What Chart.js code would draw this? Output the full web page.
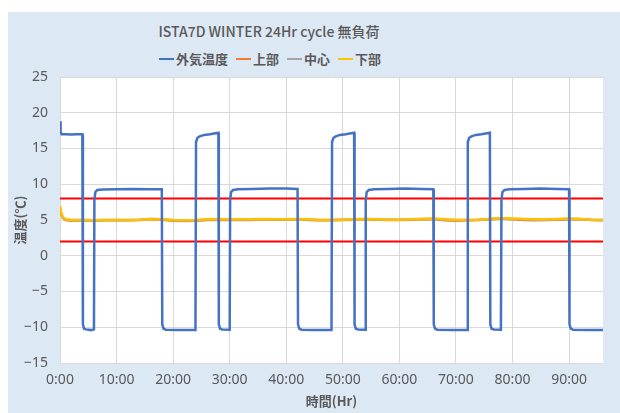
<!DOCTYPE html>
<html>
<head>
<meta charset="utf-8">
<script src="https://cdn.jsdelivr.net/npm/chart.js@4.4.1/dist/chart.umd.min.js"></script>
<style>
  html, body { margin: 0; padding: 0; background: #fff; }
  #wrap { position: relative; width: 620px; height: 413px; overflow: hidden; }
  #panel { position: absolute; left: 8px; top: 12px; width: 612px; height: 401px; background: #dde8f5; }
  #title { position: absolute; left: 0; width: 538px; top: 21px; text-align: center;
           font: 500 14px "Noto Sans CJK JP", sans-serif; color: #595959; white-space: nowrap; }
  #legend { position: absolute; left: 0; width: 540px; top: 49px; text-align: center;
            font: bold 13px "Noto Sans CJK JP", sans-serif; color: #595959; white-space: nowrap; }
  #legend span.item { display: inline-block; margin: 0 4px; }
  #legend span.sw { display: inline-block; width: 15px; height: 2px; vertical-align: middle; margin-right: 2px; position: relative; top: -1px; }
  canvas { position: absolute; left: 0; top: 0; }
</style>
</head>
<body>
<div id="wrap">
  <div id="panel"></div>
  <div id="title">ISTA7D WINTER 24Hr cycle 無負荷</div>
  <div id="legend"></div>
  <canvas id="chart" width="620" height="413"></canvas>
</div>
<script>
// 外気温度 (hours, ℃)
var outsideHours = [
  0, 0.1, 0.3, 1, 2, 3, 3.95,
  4.05, 4.25, 4.6, 5.5, 6.0,
  6.08, 6.25, 6.6, 7.5, 10, 13, 16, 18.0,
  18.08, 18.3, 18.7, 21, 23.95,
  24.05, 24.3, 24.7, 25.5, 26.5, 28.0,
  28.08, 28.3, 28.7, 30.0,
  30.08, 30.25, 30.6, 31.5, 34, 37, 40, 42.0,
  42.08, 42.3, 42.7, 45, 48.0,
  48.1, 48.35, 48.75, 49.5, 50.5, 52.0,
  52.08, 52.3, 52.7, 53.95,
  54.05, 54.22, 54.6, 55.5, 58, 61, 64, 66.0,
  66.08, 66.3, 66.7, 69.5, 72.0,
  72.1, 72.35, 72.75, 73.5, 74.5, 76.0,
  76.08, 76.3, 76.7, 77.95,
  78.05, 78.22, 78.6, 79.5, 82, 85, 88, 90.0,
  90.08, 90.3, 90.7, 93.5, 96
];
var outsideTemp = [
  18.8, 17.3, 17.0, 17.0, 16.95, 17.0, 17.0,
  -9.6, -10.2, -10.3, -10.4, -10.3,
  7.8, 8.9, 9.2, 9.25, 9.3, 9.35, 9.3, 9.3,
  -9.6, -10.2, -10.35, -10.4, -10.4,
  15.9, 16.5, 16.7, 16.9, 17.0, 17.2,
  -9.6, -10.2, -10.3, -10.35,
  7.8, 8.9, 9.2, 9.3, 9.35, 9.4, 9.4, 9.35,
  -9.6, -10.2, -10.35, -10.4, -10.4,
  15.9, 16.5, 16.7, 16.9, 17.0, 17.2,
  -9.6, -10.2, -10.3, -10.35,
  7.8, 8.9, 9.2, 9.3, 9.35, 9.4, 9.35, 9.3,
  -9.6, -10.2, -10.35, -10.4, -10.4,
  15.9, 16.5, 16.7, 16.9, 17.0, 17.2,
  -9.6, -10.2, -10.3, -10.35,
  7.8, 8.9, 9.2, 9.3, 9.35, 9.4, 9.35, 9.3,
  -9.6, -10.2, -10.35, -10.4, -10.4
];

// 庫内 (上部・中心・下部)
var insideHours = [0, 0.2, 0.5, 1, 2, 4, 6, 8, 10, 12, 14, 16, 18, 20, 22, 24, 26, 28, 30, 32, 34, 36, 38, 40, 42, 44, 46, 48,
  50, 52, 54, 56, 58, 60, 62, 64, 66, 68, 70, 72, 74, 76, 78, 80, 82, 84, 86, 88, 90, 92, 94, 96];
var topTemp = [6.6, 5.8, 5.3, 5.0, 4.9, 4.95, 4.9, 4.95, 4.95, 4.95, 5.0, 5.1, 5.05, 4.9, 4.85, 4.9, 5.0, 5.05, 5.0, 5.05, 5.0, 5.1, 5.05, 5.05, 5.1, 5.0, 4.95,
  4.95, 5.0, 5.05, 5.1, 5.05, 5.0, 5.0, 5.05, 5.1, 5.1, 4.95, 4.9, 4.95, 5.0, 5.1, 5.2, 5.1, 5.0, 4.95, 5.0, 5.05, 5.1, 5.1, 5.0, 4.95];
var centerTemp = [6.8, 5.9, 5.35, 5.05, 4.95, 5.0, 4.95, 5.0, 5.0, 5.0, 5.05, 5.15, 5.1, 4.95, 4.9, 4.95, 5.05, 5.1, 5.05, 5.1, 5.05, 5.1, 5.1, 5.1, 5.1, 5.05, 5.0,
  5.0, 5.05, 5.1, 5.15, 5.1, 5.05, 5.05, 5.1, 5.15, 5.15, 5.05, 5.0, 5.0, 5.05, 5.15, 5.2, 5.15, 5.1, 5.05, 5.05, 5.1, 5.15, 5.15, 5.05, 5.0];
var bottomTemp = [7.0, 6.0, 5.4, 5.1, 5.0, 5.0, 4.95, 5.0, 5.0, 5.0, 5.05, 5.15, 5.1, 5.0, 4.95, 5.0, 5.1, 5.15, 5.1, 5.1, 5.1, 5.15, 5.1, 5.1, 5.15, 5.1, 5.0,
  5.0, 5.05, 5.1, 5.15, 5.1, 5.05, 5.05, 5.1, 5.15, 5.2, 5.1, 5.0, 5.0, 5.05, 5.15, 5.25, 5.2, 5.15, 5.1, 5.1, 5.15, 5.2, 5.15, 5.05, 5.0];

// 管理範囲 (2℃〜8℃)
var limitHours = [0, 96];
var upperLimit = [8, 8];
var lowerLimit = [2, 2];

var seriesNames = ['外気温度', '上部', '中心', '下部'];
var seriesColors = ['#4472c4', '#ed7d31', '#a5a5a5', '#ffc000'];

function toPoints(xs, ys) {
  return xs.map(function(x, i) { return { x: x, y: ys[i] }; });
}

// legend (HTML, built from series)
var legendEl = document.getElementById('legend');
seriesNames.forEach(function(name, i) {
  var item = document.createElement('span');
  item.className = 'item';
  var sw = document.createElement('span');
  sw.className = 'sw';
  sw.style.background = seriesColors[i];
  item.appendChild(sw);
  item.appendChild(document.createTextNode(name));
  legendEl.appendChild(item);
});

var plotBg = {
  id: 'plotBg',
  beforeDraw: function(chart) {
    var a = chart.chartArea, ctx = chart.ctx;
    ctx.save();
    ctx.fillStyle = '#ffffff';
    ctx.fillRect(a.left, a.top, a.right - a.left, a.bottom - a.top);
    ctx.restore();
  }
};

var lineOpts = { pointRadius: 0, tension: 0, fill: false };

new Chart(document.getElementById('chart'), {
  type: 'line',
  data: {
    datasets: [
      Object.assign({ label: seriesNames[0], data: toPoints(outsideHours, outsideTemp), borderColor: seriesColors[0], borderWidth: 2.5, order: 0 }, lineOpts),
      Object.assign({ label: seriesNames[1], data: toPoints(insideHours, topTemp), borderColor: seriesColors[1], borderWidth: 2.5, order: 5 }, lineOpts),
      Object.assign({ label: seriesNames[2], data: toPoints(insideHours, centerTemp), borderColor: seriesColors[2], borderWidth: 2.5, order: 4 }, lineOpts),
      Object.assign({ label: seriesNames[3], data: toPoints(insideHours, bottomTemp), borderColor: seriesColors[3], borderWidth: 2.5, order: 3 }, lineOpts),
      Object.assign({ label: '上限', data: toPoints(limitHours, upperLimit), borderColor: '#ff0000', borderWidth: 2, order: 1 }, lineOpts),
      Object.assign({ label: '下限', data: toPoints(limitHours, lowerLimit), borderColor: '#ff0000', borderWidth: 2, order: 1 }, lineOpts)
    ]
  },
  options: {
    responsive: false,
    animation: false,
    layout: { padding: { left: 8, top: 77, right: 17, bottom: 0 } },
    plugins: {
      legend: { display: false },
      title: { display: false },
      tooltip: { enabled: false }
    },
    scales: {
      x: {
        type: 'linear',
        min: 0,
        max: 96,
        afterFit: function(scale) { scale.height = 50; },
        grid: { color: '#d9d9d9', drawTicks: false },
        border: { display: false },
        ticks: {
          stepSize: 10,
          includeBounds: false,
          padding: 9,
          maxRotation: 0,
          color: '#595959',
          font: { family: 'Noto Sans', size: 14 },
          callback: function(v) { return v + ':00'; }
        },
        title: {
          display: true,
          text: '時間(Hr)',
          color: '#595959',
          font: { family: 'Noto Sans CJK JP', size: 13, weight: 'bold' },
          padding: { top: 4, bottom: 4 }
        }
      },
      y: {
        min: -15,
        max: 25,
        afterFit: function(scale) { scale.width = 52; },
        grid: { color: '#d9d9d9', drawTicks: false },
        border: { display: false },
        ticks: {
          stepSize: 5,
          padding: 12,
          color: '#595959',
          font: { family: 'Noto Sans', size: 14 },
          callback: function(v) { return String(v).replace('-', '\u2212'); }
        },
        title: {
          display: true,
          text: '温度(℃)',
          color: '#595959',
          font: { family: 'Noto Sans CJK JP', size: 13, weight: 'bold' },
          padding: { top: 4, bottom: 4 }
        }
      }
    }
  },
  plugins: [plotBg]
});
</script>
</body>
</html>
